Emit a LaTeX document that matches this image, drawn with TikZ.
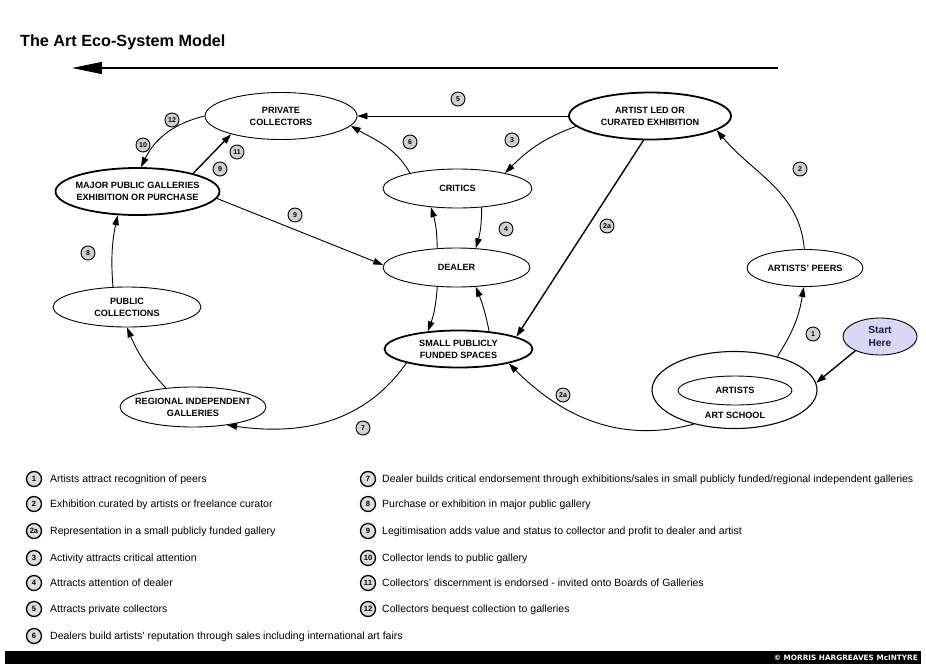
\documentclass[tikz,border=0pt]{standalone}
\usepackage{fontspec}
\setmainfont{Liberation Sans}
\newfontfamily\copyfont{DejaVu Sans}
\usetikzlibrary{shapes.geometric,arrows.meta}
\definecolor{badgegray}{HTML}{D0D0D0}
\definecolor{lbadgegray}{HTML}{DDDDDD}
\definecolor{startfill}{HTML}{D8D8F6}
\definecolor{starttext}{HTML}{1A1A3A}
\begin{document}
\begin{tikzpicture}[x=1pt,y=-1pt,
  ell/.style={ellipse,draw,line width=0.9pt,inner sep=0pt,fill=white},
  ellthick/.style={ell,line width=1.8pt},
  lab/.style={font=\fontsize{9.1}{12}\selectfont\bfseries,align=center,inner sep=0pt},
  badge/.style={circle,draw,line width=0.9pt,fill=badgegray,minimum size=14pt,inner sep=0pt,font=\fontsize{7}{8}\selectfont\bfseries},
  lbadge/.style={badge,line width=1.3pt,fill=lbadgegray,minimum size=15pt,font=\fontsize{7.6}{8}\selectfont\bfseries},
  conn/.style={line width=0.9pt,-{Triangle[length=10pt,width=6.5pt]}},
  connthick/.style={conn,line width=1.4pt},
  legtext/.style={anchor=base west,inner sep=0pt,font=\fontsize{10.5}{12}\selectfont}
]
\useasboundingbox (0,0) rectangle (926,667);

% title and top arrow
\node[anchor=base west,inner sep=0pt,font=\fontsize{16.2}{18}\selectfont\bfseries] (title) at (20,46) {The Art Eco-System Model};
\coordinate (tr) at (778,68);
\coordinate (tl) at (72,68);
\draw[line width=1.2pt,-{Triangle[length=30pt,width=12pt]}] (tr) -- (tl);

% nodes
\node[ell,minimum width=152pt,minimum height=47pt,label={[lab]center:{PRIVATE\\COLLECTORS}}] (private) at (281,116) {};
\node[ellthick,minimum width=162pt,minimum height=47pt,label={[lab]center:{ARTIST LED OR\\CURATED EXHIBITION}}] (artist) at (650,116) {};
\node[ellthick,minimum width=164pt,minimum height=47pt,label={[lab]center:{MAJOR PUBLIC GALLERIES\\EXHIBITION OR PURCHASE}}] (major) at (137.5,191.5) {};
\node[ell,minimum width=149pt,minimum height=39pt,label={[lab]center:CRITICS}] (critics) at (457.5,188.5) {};
\node[ell,minimum width=147pt,minimum height=39pt,label={[lab]center:DEALER}] (dealer) at (456.5,267.5) {};
\node[ell,minimum width=116pt,minimum height=37pt,label={[lab]center:{ARTISTS' PEERS}}] (peers) at (805,268) {};
\node[ell,minimum width=148pt,minimum height=40pt,label={[lab]center:{PUBLIC\\COLLECTIONS}}] (public) at (127,307) {};
\node[ellthick,minimum width=148pt,minimum height=37pt,label={[lab]center:{SMALL PUBLICLY\\FUNDED SPACES}}] (small) at (458.5,349) {};
\node[ell,minimum width=146pt,minimum height=40pt,label={[lab]center:{REGIONAL INDEPENDENT\\GALLERIES}}] (regional) at (193,407) {};
\node[ell,line width=1.1pt,minimum width=165pt,minimum height=77pt] (school) at (734.5,390) {};
\node[lab] (schoollab) at (735,415) {ART SCHOOL};
\node[ell,minimum width=114pt,minimum height=29pt,label={[lab]center:ARTISTS}] (artists) at (735,390.5) {};
\node[ell,fill=startfill,minimum width=74pt,minimum height=37pt,label={[lab,font=\fontsize{10.2}{13}\selectfont\bfseries,text=starttext]center:{Start\\Here}}] (start) at (880,336.5) {};

% connectors
\draw[conn] (artist.west) -- (private.east);
\draw[conn] (critics.162) to[out=120,in=-30] (private.-8);
\draw[conn] (artist.188) to[out=200,in=45] (critics.18);
\draw[connthick] (artist.255) -- (small.12);
\draw[conn] (peers.92) to[out=95,in=-50] (artist.-12);
\draw[conn] (school.38) to[bend right=12] (peers.266);
\draw[connthick] (start.210) -- (school.5);
\draw[conn] (school.220) to[out=195,in=-45] (small.-16);
\draw[conn] (dealer.135) to[bend right=8] (critics.215);
\draw[conn] (critics.-38) to[bend left=8] (dealer.45);
\draw[conn] (dealer.225) to[bend left=8] (small.150);
\draw[conn] (small.30) to[bend right=5] (dealer.-45);
\draw[conn] (major.-5) -- (dealer.178);
\draw[connthick] (major.18) -- (private.200);
\draw[conn] (private.180) to[bend right=25] (major.82);
\draw[conn] (public.125) to[bend left=8] (major.230);
\draw[conn] (regional.145) to[bend left=10] (public.270);
\draw[conn] (small.195) to[out=235,in=-8] (regional.-28);

% badges in diagram
\node[badge] (b5) at (458,99) {5};
\node[badge] (b12) at (172,120) {12};
\node[badge] (b10) at (143,145) {10};
\node[badge] (b11) at (237,152) {11};
\node[badge] (b9a) at (220,169) {9};
\node[badge] (b9b) at (295,215) {9};
\node[badge] (b6) at (410,142) {6};
\node[badge] (b3) at (512,140) {3};
\node[badge] (b4) at (506,229) {4};
\node[badge] (b2aa) at (607,226) {2a};
\node[badge] (b2) at (800,169) {2};
\node[badge] (b8) at (88,253) {8};
\node[badge] (b1) at (813,334) {1};
\node[badge] (b2ab) at (563,395) {2a};
\node[badge] (b7) at (363,428) {7};

% legend, left column
\node[lbadge] (l1) at (34,479) {1};
\node[legtext] (t1) at (50,482.8) {Artists attract recognition of peers};
\node[lbadge] (l2) at (34,504) {2};
\node[legtext] (t2) at (50,507.8) {Exhibition curated by artists or freelance curator};
\node[lbadge] (l2a) at (34,531) {2a};
\node[legtext] (t2a) at (50,534.8) {Representation in a small publicly funded gallery};
\node[lbadge] (l3) at (34,558) {3};
\node[legtext] (t3) at (50,561.8) {Activity attracts critical attention};
\node[lbadge] (l4) at (34,583) {4};
\node[legtext] (t4) at (50,586.8) {Attracts attention of dealer};
\node[lbadge] (l5) at (34,609) {5};
\node[legtext] (t5) at (50,612.8) {Attracts private collectors};
\node[lbadge] (l6) at (34,636) {6};
\node[legtext] (t6) at (50,639.8) {Dealers build artists' reputation through sales including international art fairs};

% legend, right column
\node[lbadge] (l7) at (368,479) {7};
\node[legtext] (t7) at (382,482.8) {Dealer builds critical endorsement through exhibitions/sales in small publicly funded/regional independent galleries};
\node[lbadge] (l8) at (368,504) {8};
\node[legtext] (t8) at (382,507.8) {Purchase or exhibition in major public gallery};
\node[lbadge] (l9) at (368,531) {9};
\node[legtext] (t9) at (382,534.8) {Legitimisation adds value and status to collector and profit to dealer and artist};
\node[lbadge] (l10) at (368,558) {10};
\node[legtext] (t10) at (382,561.8) {Collector lends to public gallery};
\node[lbadge] (l11) at (368,583) {11};
\node[legtext] (t11) at (382,586.8) {Collectors' discernment is endorsed - invited onto Boards of Galleries};
\node[lbadge] (l12) at (368,609) {12};
\node[legtext] (t12) at (382,612.8) {Collectors bequest collection to galleries};

% footer bar
\fill[black] (5,651) rectangle (921,664);
\node[anchor=east,inner sep=0pt,text=white,font=\copyfont\fontsize{7.3}{8}\selectfont\bfseries] (copy) at (918,658) {\textcopyright{} MORRIS HARGREAVES McINTYRE};
\end{tikzpicture}
\end{document}
